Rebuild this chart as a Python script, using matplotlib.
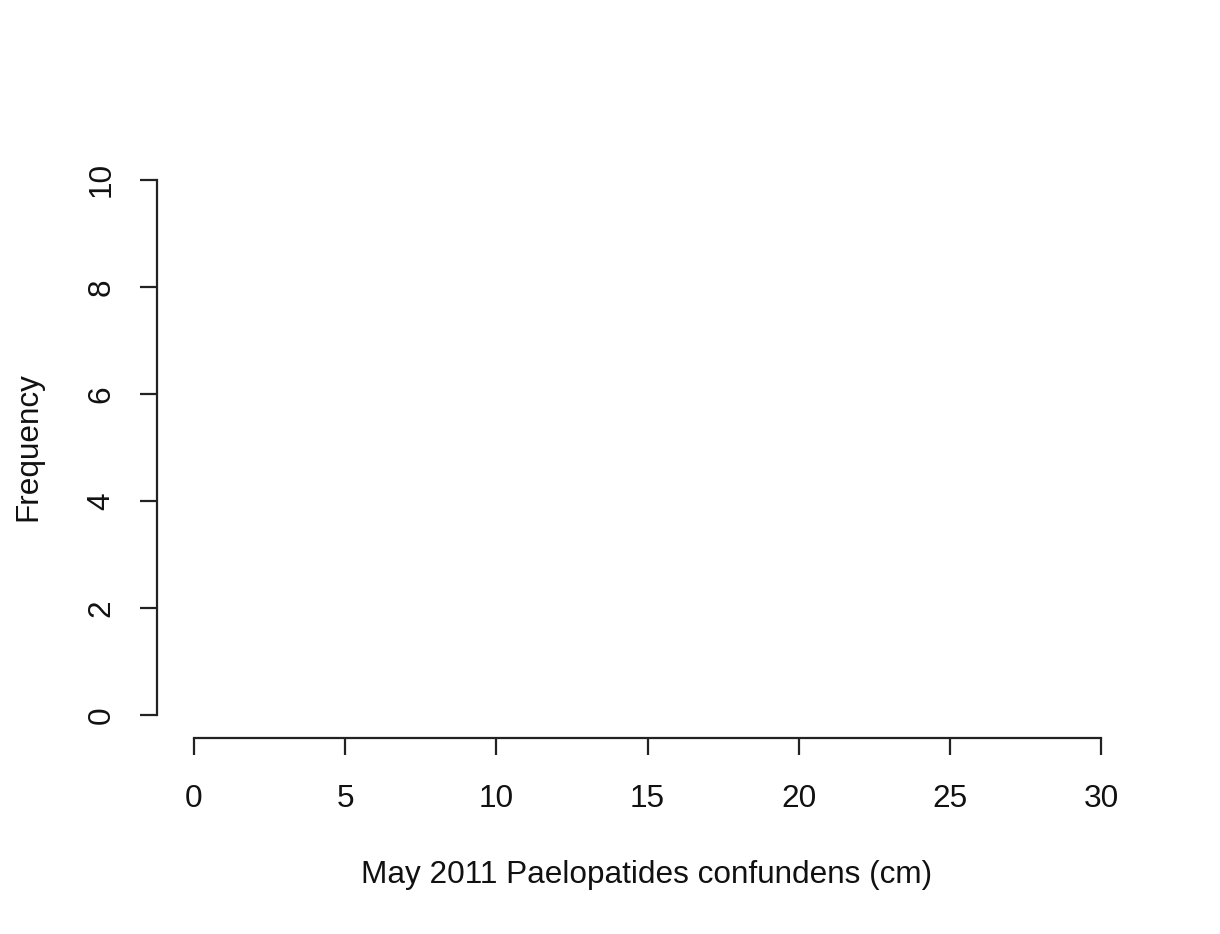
import matplotlib
matplotlib.use("Agg")
import matplotlib.pyplot as plt

# Data (empty histogram: all bin counts are zero)
bin_edges = [0, 5, 10, 15, 20, 25, 30]
counts = [0, 0, 0, 0, 0, 0]
x_ticks = [0, 5, 10, 15, 20, 25, 30]
y_ticks = [0, 2, 4, 6, 8, 10]
x_label = "May 2011 Paelopatides confundens (cm)"
y_label = "Frequency"

plt.rcParams['font.family'] = ['Liberation Sans', 'DejaVu Sans']

W, H = 1220, 934
fig = plt.figure(figsize=(W / 100, H / 100), dpi=100)

L, R, T, B = 157, 1137, 158, 738
ax = fig.add_axes([L / W, 1 - B / H, (R - L) / W, (B - T) / H])
ax.set_xlim(-1.224, 31.19)
ax.set_ylim(-0.43, 10.41)

col = '#222222'
widths = [bin_edges[i + 1] - bin_edges[i] for i in range(len(counts))]
edgecols = [col if c > 0 else 'none' for c in counts]
ax.bar(bin_edges[:-1], counts, width=widths, align='edge',
       facecolor='none', edgecolor=edgecols, linewidth=1.5)

for s in ['top', 'right']:
    ax.spines[s].set_visible(False)
lw = 1.6
ax.spines['left'].set_bounds(0, 10)
ax.spines['bottom'].set_bounds(0, 30)
for s in ['left', 'bottom']:
    ax.spines[s].set_linewidth(lw)
    ax.spines[s].set_color(col)

ax.set_xticks(x_ticks)
ax.set_yticks(y_ticks)
ax.set_xticklabels([str(v) for v in x_ticks])
ax.set_yticklabels([str(v) for v in y_ticks], rotation=90, va='center')
ax.tick_params(axis='both', length=12.5, width=lw, color=col,
               labelsize=22.7, labelcolor='#111111')
ax.tick_params(axis='x', pad=20.5)
ax.tick_params(axis='y', pad=16.5)

fig.text(647 / W, 1 - 875 / H, x_label, ha='center', va='center',
         fontsize=22.7, color='#111111')
fig.text(28 / W, 1 - 447 / H, y_label, ha='center', va='center',
         rotation=90, fontsize=22.7, color='#111111')

fig.savefig("out.png", dpi=100, facecolor='white')
